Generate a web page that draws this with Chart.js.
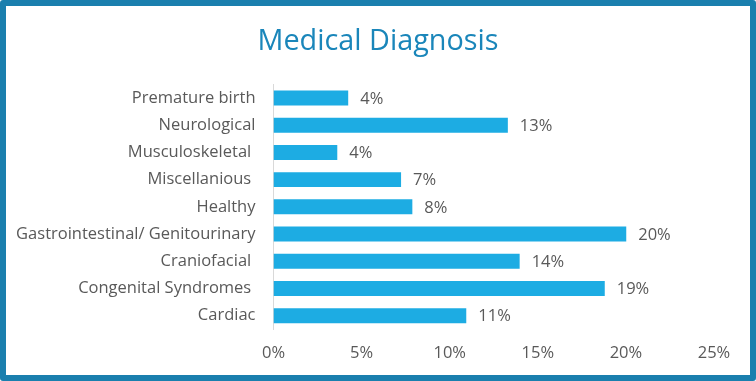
<!DOCTYPE html>
<html>
<head>
<meta charset="utf-8">
<script src="https://cdn.jsdelivr.net/npm/chart.js@4"></script>
<style>
  html, body { margin: 0; padding: 0; background: #fff; }
  #frame { width: 756px; height: 381px; box-sizing: border-box; border: 6px solid #1A7FAE; border-radius: 3px; background: #fff; }
  #wrap { position: relative; width: 744px; height: 369px; }
</style>
</head>
<body>
<div id="frame"><div id="wrap"><canvas id="c" width="744" height="369"></canvas></div></div>
<script>
const chartTitle = 'Medical Diagnosis';
const categories = ['Premature birth', 'Neurological', 'Musculoskeletal ', 'Miscellanious ', 'Healthy', 'Gastrointestinal/ Genitourinary', 'Craniofacial ', 'Congenital Syndromes ', 'Cardiac'];
const percentValues = [4.24, 13.3, 3.62, 7.24, 7.88, 20.02, 13.97, 18.8, 10.94];
const axisMin = 0, axisMax = 25, axisStep = 5;

const FONT = '"Open Sans"';
const TEXT = '#595959';

const titlePlugin = {
  id: 'centerTitle',
  afterDraw(chart) {
    const ctx = chart.ctx;
    ctx.save();
    ctx.font = '28.8px ' + FONT;
    ctx.fillStyle = '#1A86BA';
    ctx.textAlign = 'center';
    ctx.textBaseline = 'alphabetic';
    ctx.fillText(chartTitle, chart.width / 2, 44);
    ctx.restore();
  }
};

const dataLabelPlugin = {
  id: 'dataLabels',
  afterDatasetsDraw(chart) {
    const ctx = chart.ctx;
    const meta = chart.getDatasetMeta(0);
    ctx.save();
    ctx.font = '16.5px ' + FONT;
    ctx.fillStyle = TEXT;
    ctx.textAlign = 'left';
    ctx.textBaseline = 'middle';
    meta.data.forEach((bar, i) => {
      ctx.fillText(Math.round(percentValues[i]) + '%', bar.x + 12, bar.y + 1);
    });
    ctx.restore();
  }
};

new Chart(document.getElementById('c'), {
  type: 'bar',
  data: {
    labels: categories,
    datasets: [{
      data: percentValues,
      backgroundColor: '#1DACE3',
      borderWidth: 0,
      barPercentage: 0.55,
      categoryPercentage: 1.0
    }]
  },
  options: {
    indexAxis: 'y',
    responsive: false,
    animation: false,
    layout: { padding: { left: 0, right: 36, top: 78.4, bottom: 0 } },
    plugins: {
      legend: { display: false },
      tooltip: { enabled: false },
      title: { display: false }
    },
    scales: {
      x: {
        min: axisMin, max: axisMax,
        grid: { display: false, drawTicks: false },
        border: { display: false },
        ticks: { stepSize: axisStep, padding: 14, color: TEXT, font: { family: 'Open Sans', size: 16.5 }, callback: v => v + '%' },
        afterFit: s => { s.height = 45.7; }
      },
      y: {
        grid: { display: false, drawTicks: false },
        border: { display: true, color: '#D9D9D9', width: 1 },
        ticks: { padding: 18, color: TEXT, font: { family: 'Open Sans', size: 16.5 } },
        afterFit: s => { s.width = 267.5; }
      }
    }
  },
  plugins: [dataLabelPlugin, titlePlugin]
});
</script>
</body>
</html>
